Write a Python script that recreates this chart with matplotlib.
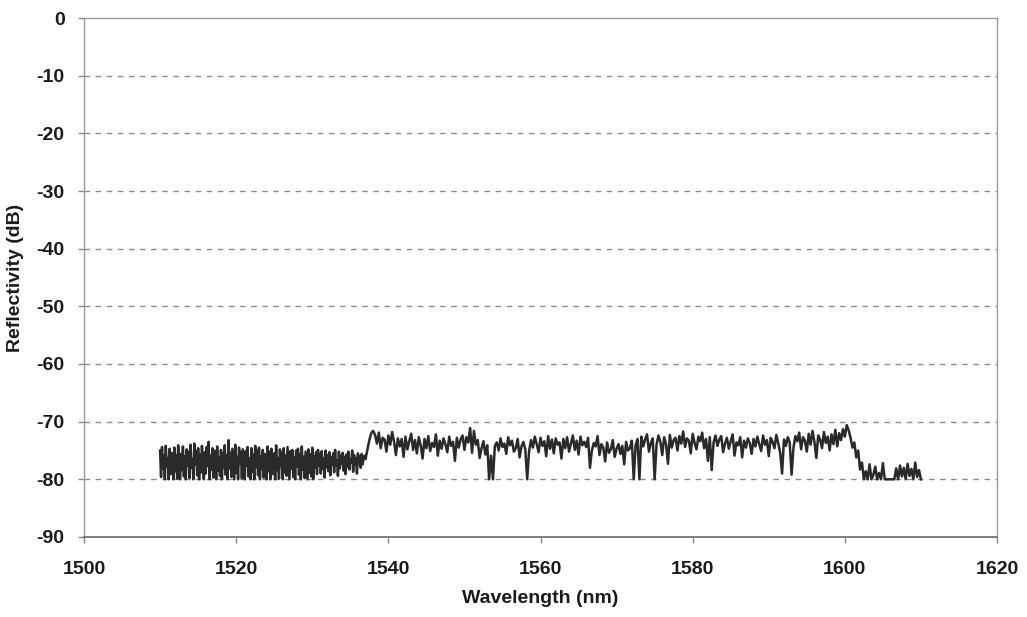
import numpy as np
import matplotlib
matplotlib.use("Agg")
import matplotlib.pyplot as plt

plt.rcParams['font.family'] = ['Liberation Sans', 'DejaVu Sans']
plt.rcParams['font.weight'] = 'bold'
plt.rcParams['axes.unicode_minus'] = False

# 1510.000 - 1536.875 nm, sampled every 0.125 nm
low_start, low_step = 1510.0, 0.125
refl_low = [
    -75.0, -79.6, -74.4, -78.2, -75.9, -80.0, -74.2, -77.8, -76.3, -80.0, -74.7, -79.1, -75.4, -77.0, -80.0, -74.5, -78.6, -75.8, -79.9, -74.1, -77.3, -80.0, -75.6, -78.4,
    -74.3, -79.5, -76.0, -80.0, -74.8, -77.6, -75.2, -79.8, -74.0, -78.0, -76.5, -80.0, -73.8, -77.4, -75.1, -79.3, -74.6, -80.0, -75.7, -78.8, -74.2, -76.9, -80.0, -75.3,
    -79.0, -74.4, -77.7, -73.5, -80.0, -75.9, -78.3, -74.6, -79.7, -75.0, -77.1, -80.0, -74.3, -78.5, -76.2, -79.4, -74.9, -80.0, -75.5, -77.9, -74.1, -79.2, -75.8, -80.0,
    -73.2, -78.1, -75.4, -79.6, -74.7, -77.5, -80.0, -74.0, -78.9, -76.1, -80.0, -74.5, -77.2, -75.3, -79.8, -74.8, -78.0, -80.0, -75.1, -77.6, -74.4, -79.5, -76.4, -80.0,
    -74.6, -78.7, -75.7, -80.0, -74.2, -77.9, -75.0, -79.3, -74.5, -80.0, -76.0, -78.2, -74.9, -79.7, -75.6, -77.4, -80.0, -74.3, -78.6, -75.2, -80.0, -74.7, -77.1, -79.1,
    -75.5, -80.0, -74.1, -78.4, -76.3, -79.9, -74.8, -77.7, -75.4, -80.0, -74.6, -78.8, -75.9, -79.4, -74.4, -77.3, -80.0, -75.1, -78.1, -74.9, -79.6, -76.2, -80.0, -75.0,
    -77.8, -74.7, -79.2, -75.6, -80.0, -74.3, -78.3, -76.1, -79.8, -75.2, -77.5, -80.0, -74.8, -78.9, -75.7, -79.5, -74.5, -80.0, -76.0, -78.0, -75.3, -79.1, -74.9, -77.6,
    -75.6, -79.0, -75.1, -78.2, -76.4, -79.7, -75.0, -77.9, -75.8, -78.6, -75.3, -79.3, -76.2, -77.4, -75.5, -78.8, -74.9, -77.6, -76.7, -79.4, -75.2, -78.1, -75.9, -77.3,
    -75.4, -78.5, -76.1, -79.1, -75.7, -77.8, -75.2, -78.3, -76.5, -77.1, -75.0, -78.7, -75.8, -77.5, -76.3, -79.0, -75.5, -77.2, -76.0, -78.0, -75.6, -77.4, -76.2, -75.9,
]

# From 1537.00 nm on, sampled every 0.25 nm
rest_start, rest_step = 1537.0, 0.25

# 1537.00 - 1538.00 nm, step up
refl_edge = [-76.5, -74.8, -73.2, -72.0, -71.6]

# 1538.25 - 1600.50 nm
refl_high = [
    -72.3, -73.8, -71.9, -74.6, -72.8, -73.1, -75.2, -72.4, -74.0, -71.8, -73.5, -75.8, -72.9, -74.3, -73.0, -76.1, -72.6, -74.8, -73.4, -72.1,
    -74.9, -73.2, -75.5, -72.7, -74.1, -76.4, -73.0, -74.6, -72.5, -75.1, -73.7, -74.4, -72.2, -75.9, -73.3, -74.7, -72.9, -73.9, -75.3, -72.6,
    -74.2, -73.5, -76.8, -72.8, -74.5, -73.1, -72.4, -74.9, -72.7, -73.6, -71.1, -75.4, -71.6, -74.0, -73.2, -76.3, -74.6, -73.4, -75.7, -74.1,
    -80.0, -75.9, -80.0, -74.2, -73.6, -75.0, -72.9, -74.4, -73.8, -75.6, -72.7, -74.1, -73.3, -75.2, -74.6, -73.0, -76.2, -74.3, -73.5, -74.8,
    -80.0, -75.1, -73.2, -74.5, -72.6, -73.9, -75.3, -72.8, -74.2, -73.4, -76.0, -72.5, -74.7, -73.1, -75.5, -72.9, -74.0, -73.6, -76.4, -73.0,
    -74.6, -72.7, -75.2, -73.8, -72.4, -74.9, -73.3, -75.7, -72.6, -74.1, -73.5, -74.4, -72.8, -78.0, -75.0, -73.7, -74.3, -72.5, -75.8, -73.9,
    -74.5, -76.9, -73.6, -75.4, -74.8, -73.2, -76.1, -74.7, -73.9, -75.6, -74.2, -77.4, -73.5, -75.0, -74.6, -73.3, -80.0, -74.1, -73.0, -80.0,
    -72.6, -74.3, -73.1, -72.2, -75.2, -73.7, -72.9, -80.0, -74.0, -72.4, -73.5, -75.8, -72.7, -73.9, -77.3, -72.3, -74.5, -73.2, -72.8, -75.0,
    -72.5, -73.8, -71.7, -74.4, -72.9, -73.3, -75.5, -72.1, -73.7, -74.8, -72.6, -73.4, -71.9, -74.6, -73.0, -76.8, -72.7, -78.4, -73.6, -72.4,
    -74.2, -73.1, -72.5, -75.3, -73.8, -72.8, -74.7, -73.4, -72.2, -75.9, -73.6, -74.1, -72.7, -76.2, -73.3, -74.5, -72.9, -73.7, -75.6, -73.0,
    -74.3, -72.6, -73.9, -75.1, -72.4, -74.0, -73.2, -76.0, -72.8, -73.5, -74.6, -72.3, -73.8, -75.4, -79.0, -73.1, -74.2, -72.7, -73.6, -79.2,
    -74.5, -72.5, -73.4, -71.9, -74.8, -72.7, -73.3, -75.2, -72.1, -74.0, -71.6, -73.5, -76.3, -72.4, -73.1, -74.6, -71.8, -73.7, -72.6, -75.0,
    -72.2, -73.9, -71.4, -74.3, -72.0, -73.2, -71.3, -72.6, -70.6, -71.5,
]

# 1600.75 - 1610.00 nm, drop to the noise floor
refl_tail = [
    -72.8, -74.5, -73.6, -76.2, -75.0, -78.3, -77.1, -80.0, -78.6, -80.0,
    -77.4, -80.0, -79.2, -77.8, -80.0, -78.9, -80.0, -77.2, -80.0, -80.0,
    -80.0, -80.0, -80.0, -80.0, -78.1, -80.0, -77.6, -79.5, -78.0, -80.0,
    -77.3, -79.4, -78.2, -80.0, -77.1, -79.6, -78.4, -80.0,
]

x_ticks = [1500, 1520, 1540, 1560, 1580, 1600, 1620]
y_ticks = [0, -10, -20, -30, -40, -50, -60, -70, -80, -90]

refl_rest = refl_edge + refl_high + refl_tail
wl = np.concatenate([low_start + low_step * np.arange(len(refl_low)),
                     rest_start + rest_step * np.arange(len(refl_rest))])
refl = np.array(refl_low + refl_rest)

fig = plt.figure(figsize=(10.27, 6.17), dpi=100)
ax = fig.add_axes([0.0818, 0.1297, 0.8890, 0.8411])

for y in y_ticks[1:-1]:
    ax.axhline(y, color='#8a8a8a', lw=1.0, ls=(0, (4, 4)), zorder=1)

ax.plot(wl, refl, color='#2a2a2a', lw=1.8, zorder=3)

ax.set_xlim(1500, 1620)
ax.set_ylim(-90, 0)
ax.set_xticks(x_ticks)
ax.set_yticks(y_ticks)

for side in ['top', 'left', 'right']:
    ax.spines[side].set_color('#9a9a9a')
    ax.spines[side].set_linewidth(1.0)
ax.spines['bottom'].set_color('#6a6a6a')
ax.spines['bottom'].set_linewidth(1.2)

ax.tick_params(axis='x', direction='out', length=4, width=1, color='#888888',
               pad=13, labelsize=14)
ax.tick_params(axis='y', direction='out', length=4, width=1, color='#888888',
               pad=10, labelsize=14)
for lab in ax.get_xticklabels() + ax.get_yticklabels():
    lab.set_fontweight('bold')
    lab.set_color('#1a1a1a')

ax.set_xlabel('Wavelength (nm)', fontsize=14, fontweight='bold', color='#1a1a1a', labelpad=9)
ax.set_ylabel('Reflectivity (dB)', fontsize=14, fontweight='bold', color='#1a1a1a', labelpad=9)

fig.savefig('out.png', dpi=100)
